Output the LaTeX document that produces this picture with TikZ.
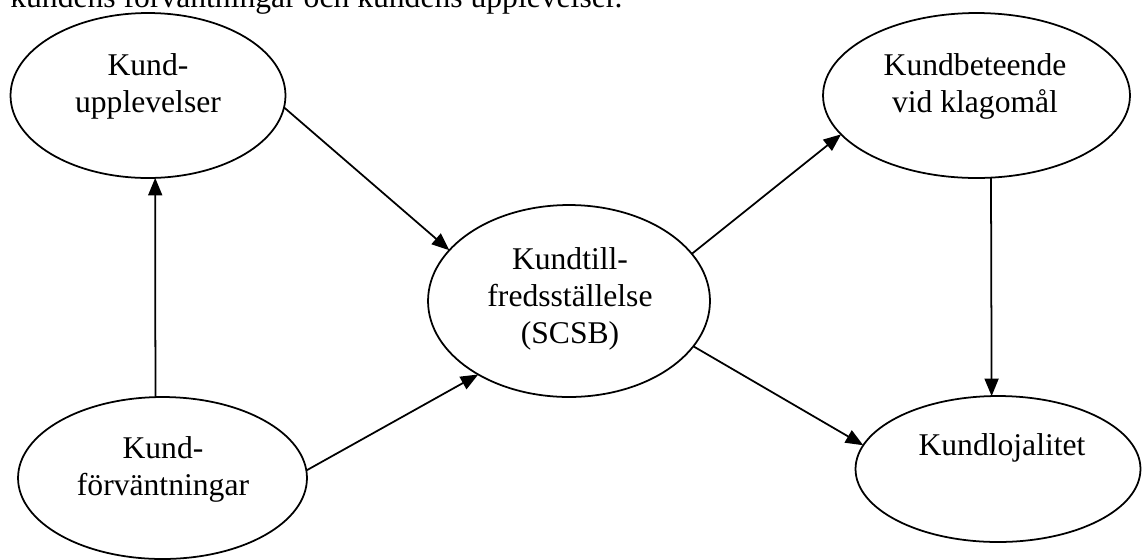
\documentclass[tikz,border=0pt]{standalone}
\usepackage{fontspec}
\setmainfont{Liberation Serif}
\usetikzlibrary{shapes.geometric, arrows.meta}

\begin{document}
\begin{tikzpicture}[x=0.02cm, y=-0.02cm,
        bubble/.style={draw, ellipse, line width=1pt, inner sep=0pt, outer sep=0pt},
        word/.style={align=center, font=\fontsize{18}{21}\selectfont, inner sep=0pt},
        link/.style={line width=1pt, -{Triangle[length=10pt, width=8pt]}}]
        % frame of the picture
        \useasboundingbox (0, 0) rectangle (1142, 559);
        \clip (0, 0) rectangle (1142, 559);
        % end of the sentence above the figure
        \node[font=\fontsize{18}{21}\selectfont, inner sep=0pt, anchor=base west] (caption) at (10, 7) {kundens förväntningar och kundens upplevelser.};
        % customer experiences, with label
        \node[bubble, minimum width=5.5cm, minimum height=3.3cm] (upp) at (148, 95.5) {};
        \node[word] (upptext) at (148, 86) {Kund-\\upplevelser};
        % customer expectations, with label
        \node[bubble, minimum width=5.78cm, minimum height=3.24cm] (forv) at (162.5, 478) {};
        \node[word] (forvtext) at (163, 469.5) {Kund-\\förväntningar};
        % satisfaction in the middle, with label
        \node[bubble, minimum width=5.64cm, minimum height=3.84cm] (sat) at (569, 301) {};
        \node[word] (sattext) at (570, 299) {Kundtill-\\fredsställelse\\(SCSB)};
        % complaint behaviour, with label
        \node[bubble, minimum width=6.14cm, minimum height=3.3cm] (beh) at (976.5, 95.5) {};
        \node[word] (behtext) at (975, 86) {Kundbeteende\\vid klagomål};
        % loyalty, with label
        \node[bubble, minimum width=5.7cm, minimum height=2.92cm] (loj) at (998, 469) {};
        \node[word, anchor=base] (lojtext) at (1002, 455) {Kundlojalitet};
        % arrows between the ellipses
        \draw[link] (upp.-5.7) -- (sat.157.3);
        \draw[link] (forv.3.8) -- (sat.-141);
        \draw[link] (forv.95.3) -- (upp.-85.2);
        \draw[link] (sat.21.25) -- (beh.-164.85);
        \draw[link] (sat.-20.85) -- (loj.170);
        \draw[link] (beh.-80) -- (loj.95.6);
\end{tikzpicture}
\end{document}
